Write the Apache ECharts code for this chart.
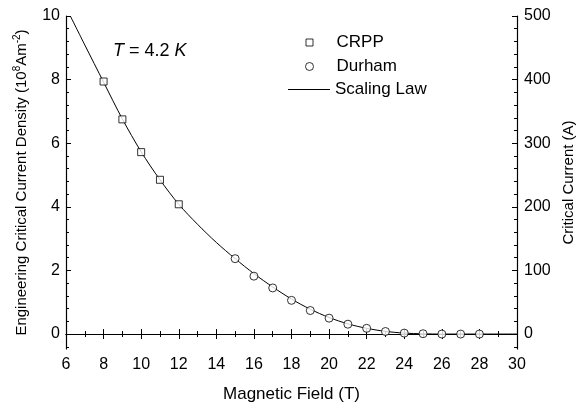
<!DOCTYPE html>
<html>
<head>
<meta charset="utf-8">
<script src="https://cdn.jsdelivr.net/npm/echarts@6/dist/echarts.min.js"></script>
<style>
  html, body { margin: 0; padding: 0; background: #fff; }
  #chart { width: 576px; height: 407px; }
</style>
</head>
<body>
<div id="chart"></div>
<script>
// CRPP measurements: field (T) and engineering Jc (10^8 A/m^2)
const fieldCRPP = [8, 9, 10, 11, 12];
const jcCRPP = [7.94, 6.75, 5.72, 4.85, 4.08];

// Durham measurements
const fieldDurham = [15, 16, 17, 18, 19, 20, 21, 22, 23, 24, 25, 26, 27, 28];
const jcDurham = [2.37, 1.82, 1.45, 1.06, 0.74, 0.50, 0.31, 0.18, 0.08, 0.03, 0.01, 0.0, 0.0, 0.0];

// Scaling-law curve, sampled along the field axis
const fieldLaw = [6.23, 7, 8, 9, 10, 11, 12, 13, 14, 15, 16, 17, 18, 19, 20, 21, 22, 23, 24, 25, 26, 27, 28, 29, 30];
const jcLaw = [10.0, 9.09, 7.92, 6.76, 5.73, 4.85, 4.08, 3.45, 2.88, 2.37, 1.90, 1.48, 1.10, 0.78, 0.52, 0.32, 0.18, 0.085, 0.03, 0.008, 0.0, 0.0, 0.0, 0.0, 0.0];

// Tick positions
const leftMajor = [0, 2, 4, 6, 8, 10];
const leftMinor = [-0.4, 0.4, 0.8, 1.2, 1.6, 2.4, 2.8, 3.2, 3.6, 4.4, 4.8, 5.2, 5.6, 6.4, 6.8, 7.2, 7.6, 8.4, 8.8, 9.2, 9.6];
const rightMajor = [0, 100, 200, 300, 400, 500];
const rightMinor = [-20, 20, 40, 60, 80, 120, 140, 160, 180, 220, 240, 260, 280, 320, 340, 360, 380, 420, 440, 460, 480];

const FONT = 'Liberation Sans, Arial, Helvetica, sans-serif';
const BLACK = '#000';

const pairs = (xs, ys) => xs.map((x, i) => [x, ys[i]]);

const axisLineStyle = { show: true, lineStyle: { color: BLACK, width: 1.2 } };

function xAxisDef(pos, labels) {
  return {
    type: 'value', position: pos, min: 6, max: 30, interval: 2,
    axisLine: axisLineStyle,
    axisTick: { show: true, inside: true, length: 5, lineStyle: { color: BLACK } },
    minorTick: { show: true, splitNumber: 2, length: 3, lineStyle: { color: BLACK } },
    axisLabel: { show: labels, color: BLACK, fontSize: 16, fontFamily: FONT, margin: 8 },
    splitLine: { show: false }, minorSplitLine: { show: false }
  };
}

function minorYAxis(pos, min, max, ticks) {
  return {
    type: 'value', position: pos, min: min, max: max,
    axisLine: { show: false },
    axisTick: { show: true, inside: true, length: 3, customValues: ticks, lineStyle: { color: BLACK } },
    axisLabel: { show: false },
    splitLine: { show: false }
  };
}

function legendEntry(name, icon, w, h, left, top, textPad, style) {
  return {
    orient: 'vertical', left: left, top: top, padding: 0,
    itemWidth: w, itemHeight: h, selectedMode: false,
    icon: icon, itemStyle: style,
    textStyle: { color: BLACK, fontSize: 17, fontFamily: FONT, padding: [0, 0, 0, textPad] },
    data: [name]
  };
}

const chart = echarts.init(document.getElementById('chart'), null, { renderer: 'canvas' });

chart.setOption({
  animation: false,
  backgroundColor: '#fff',
  textStyle: { fontFamily: FONT },
  grid: { left: 66, right: 59, top: 16, bottom: 58, containLabel: false, outerBoundsMode: 'none' },
  title: {
    text: '{i|T} = 4.2 {i|K}',
    left: 113, top: 42, padding: 0,
    textStyle: {
      color: BLACK, fontSize: 18, fontWeight: 'normal', fontFamily: FONT,
      rich: { i: { fontStyle: 'italic', fontSize: 18, color: BLACK, fontFamily: FONT } }
    }
  },
  legend: [
    legendEntry('CRPP', 'rect', 7, 7, 305.5, 34, 18.5, { color: '#fff', borderColor: BLACK, borderWidth: 1 }),
    legendEntry('Durham', 'circle', 8, 8, 305, 58, 18, { color: '#fff', borderColor: BLACK, borderWidth: 1 }),
    legendEntry('Scaling Law', 'rect', 42, 1, 288, 81, 0, { color: BLACK, borderWidth: 0 })
  ],
  xAxis: [
    Object.assign(xAxisDef('bottom', true), {
      name: 'Magnetic Field (T)', nameLocation: 'middle', nameGap: 37,
      nameTextStyle: { color: BLACK, fontSize: 17, fontFamily: FONT }
    }),
    xAxisDef('top', false)
  ],
  yAxis: [
    {
      type: 'value', position: 'left', min: -0.47, max: 10,
      axisLine: axisLineStyle,
      axisTick: { show: true, inside: true, length: 5, customValues: leftMajor, lineStyle: { color: BLACK } },
      axisLabel: { customValues: leftMajor, color: BLACK, fontSize: 16, fontFamily: FONT, margin: 6 },
      splitLine: { show: false },
      name: 'Engineering Critical Current Density (10{s|8}Am{s|-2})',
      nameLocation: 'middle', nameRotate: 90, nameGap: 35,
      nameTextStyle: {
        color: BLACK, fontSize: 15, fontFamily: FONT,
        rich: { s: { fontSize: 10, color: BLACK, fontFamily: FONT, padding: [0, 0, 9, 0] } }
      }
    },
    {
      type: 'value', position: 'right', min: -23.5, max: 500,
      axisLine: axisLineStyle,
      axisTick: { show: true, inside: true, length: 5, customValues: rightMajor, lineStyle: { color: BLACK } },
      axisLabel: { customValues: rightMajor, color: BLACK, fontSize: 16, fontFamily: FONT, margin: 7 },
      splitLine: { show: false },
      name: 'Critical Current (A)',
      nameLocation: 'middle', nameRotate: 90, nameGap: 42,
      nameTextStyle: { color: BLACK, fontSize: 15, fontFamily: FONT }
    },
    minorYAxis('left', -0.47, 10, leftMinor),
    minorYAxis('right', -23.5, 500, rightMinor)
  ],
  series: [
    {
      name: 'Scaling Law', type: 'line', xAxisIndex: 0, yAxisIndex: 0,
      data: pairs(fieldLaw, jcLaw),
      smooth: 0.3,
      symbol: 'none', showSymbol: false,
      lineStyle: { color: BLACK, width: 1 },
      itemStyle: { color: BLACK },
      z: 2
    },
    {
      name: 'CRPP', type: 'scatter', xAxisIndex: 0, yAxisIndex: 0,
      data: pairs(fieldCRPP, jcCRPP),
      symbol: 'rect', symbolSize: 7,
      itemStyle: { color: '#fff', borderColor: BLACK, borderWidth: 1 },
      z: 3
    },
    {
      name: 'Durham', type: 'scatter', xAxisIndex: 0, yAxisIndex: 0,
      data: pairs(fieldDurham, jcDurham),
      symbol: 'circle', symbolSize: 8,
      itemStyle: { color: '#fff', borderColor: BLACK, borderWidth: 1 },
      z: 3
    }
  ]
});
</script>
</body>
</html>
